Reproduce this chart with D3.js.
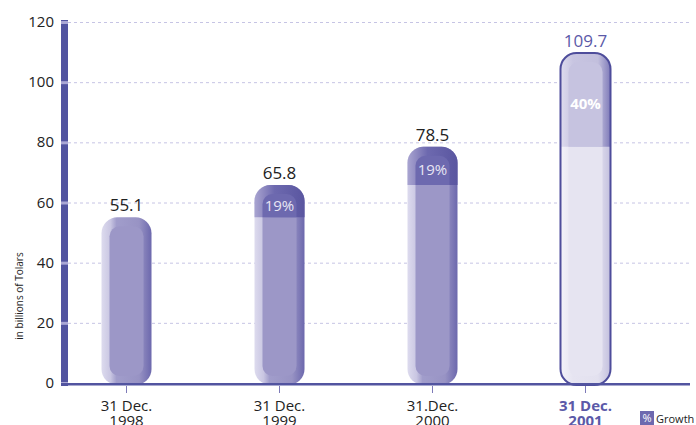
<!DOCTYPE html>
<html>
<head>
<meta charset="utf-8">
<script src="https://cdn.jsdelivr.net/npm/d3@7"></script>
<style>
  body { margin: 0; background: #fff; }
  svg { display: block; font-family: "Open Sans", "Noto Sans", sans-serif; }
</style>
</head>
<body>
<div id="chart"></div>
<script>
// data
const categories = ['31 Dec. 1998', '31 Dec. 1999', '31.Dec. 2000', '31 Dec. 2001'];
const labelLines = [['31 Dec.', '1998'], ['31 Dec.', '1999'], ['31.Dec.', '2000'], ['31 Dec.', '2001']];
const values = [55.1, 65.8, 78.5, 109.7];
const growth = [null, '19%', '19%', '40%'];
const yTicks = [0, 20, 40, 60, 80, 100, 120];

const width = 696, height = 425;
const svg = d3.select('#chart').append('svg')
  .attr('width', width).attr('height', height);

const y = d3.scaleLinear().domain([0, 120]).range([383, 22]);
const x = d3.scaleBand().domain(d3.range(categories.length)).range([50, 662]);
const barW = 50;

const defs = svg.append('defs');
function grad(id, stops) {
  const g = defs.append('linearGradient').attr('id', id)
    .attr('x1', '0%').attr('x2', '100%').attr('y1', '0%').attr('y2', '0%');
  stops.forEach(s => g.append('stop').attr('offset', s[0]).attr('stop-color', s[1]));
}
grad('outerA', [[0, '#dddbee'], [0.18, '#c9c6e2'], [0.3, '#a19dcb'], [0.75, '#9893c4'], [1, '#6c68ad']]);
grad('bandA', [[0, '#a9a5d1'], [0.18, '#8f8ac1'], [0.4, '#6d69af'], [1, '#5a56a0']]);
grad('outerB', [[0, '#f3f2f9'], [0.25, '#e6e4f1'], [0.75, '#e3e1ef'], [1, '#c3c0de']]);
grad('bandB', [[0, '#dedcee'], [0.25, '#c8c5e1'], [0.75, '#c2bfdd'], [1, '#7f7bb9']]);

// gridlines
svg.append('g').selectAll('line')
  .data(yTicks.filter(d => d > 0))
  .join('line')
  .attr('x1', 68).attr('x2', 690)
  .attr('y1', d => y(d) + 0.5).attr('y2', d => y(d) + 0.5)
  .attr('stroke', '#c6c4e4').attr('stroke-width', 1)
  .attr('stroke-dasharray', '3,3');

// bars
const bars = svg.append('g').selectAll('g')
  .data(values)
  .join('g');

bars.each(function (v, i) {
  const g = d3.select(this);
  const last = i === values.length - 1;
  const cx = x(i) + x.bandwidth() / 2;
  const x0 = cx - barW / 2;
  const top = y(v), bot = y(0) + 2;
  const h = bot - top;

  g.append('rect')
    .attr('x', x0).attr('y', top).attr('width', barW).attr('height', h)
    .attr('rx', 16)
    .attr('fill', last ? 'url(#outerB)' : 'url(#outerA)');
  g.append('rect')
    .attr('x', x0 + 8).attr('y', top + 9).attr('width', barW - 16).attr('height', h - 18)
    .attr('rx', 10)
    .attr('fill', last ? '#e6e4f1' : '#9c97c7');

  if (growth[i]) {
    const prevY = y(values[i - 1]);
    const clipId = 'clip' + i;
    defs.append('clipPath').attr('id', clipId)
      .append('rect').attr('x', x0 - 2).attr('y', top - 2)
      .attr('width', barW + 4).attr('height', prevY - top + 2);
    const band = g.append('g').attr('clip-path', `url(#${clipId})`);
    band.append('rect')
      .attr('x', x0).attr('y', top).attr('width', barW).attr('height', h)
      .attr('rx', 16)
      .attr('fill', last ? 'url(#bandB)' : 'url(#bandA)');
    band.append('rect')
      .attr('x', x0 + 8).attr('y', top + 9).attr('width', barW - 16).attr('height', h - 18)
      .attr('rx', 10)
      .attr('fill', last ? '#c6c3e0' : '#6d69af');
    g.append('text')
      .attr('x', cx).attr('y', (top + 9 + prevY) / 2 + 5)
      .attr('text-anchor', 'middle')
      .attr('font-size', 15)
      .attr('font-weight', last ? 'bold' : 'normal')
      .attr('fill', last ? '#ffffff' : '#e8e6f4')
      .text(growth[i]);
  }

  if (last) {
    g.append('rect')
      .attr('x', x0).attr('y', top).attr('width', barW).attr('height', h)
      .attr('rx', 16)
      .attr('fill', 'none').attr('stroke', '#4e4d9b').attr('stroke-width', 2);
  }

  g.append('text')
    .attr('x', cx).attr('y', top - 6)
    .attr('text-anchor', 'middle')
    .attr('font-size', 17)
    .attr('fill', last ? '#5b59a8' : '#222')
    .text(d3.format('.1f')(v));
});

// y axis bar
svg.append('rect')
  .attr('x', 61).attr('y', y(120) - 2).attr('width', 7).attr('height', y(0) - y(120) + 5)
  .attr('fill', '#5254a0');
svg.append('g').selectAll('rect')
  .data(yTicks)
  .join('rect')
  .attr('x', 61).attr('y', d => y(d) - 1).attr('width', 7).attr('height', 3)
  .attr('fill', '#aaa7d5');

svg.append('g').selectAll('text')
  .data(yTicks)
  .join('text')
  .attr('x', 54).attr('y', d => y(d) + 5)
  .attr('text-anchor', 'end')
  .attr('font-size', 15)
  .attr('fill', '#222')
  .text(d => d);

svg.append('text')
  .attr('transform', 'translate(23,296) rotate(-90)')
  .attr('text-anchor', 'middle')
  .attr('font-size', 10)
  .attr('fill', '#222')
  .text('in billions of Tolars');

// x axis
svg.append('rect')
  .attr('x', 61).attr('y', y(0)).attr('width', 629).attr('height', 2.5)
  .attr('fill', '#5254a0');

const xAxis = svg.append('g').selectAll('g')
  .data(categories)
  .join('g')
  .attr('transform', (d, i) => `translate(${x(i) + x.bandwidth() / 2},0)`);
xAxis.append('line')
  .attr('y1', y(0) + 3).attr('y2', y(0) + 10)
  .attr('stroke', '#7d7ab8');
xAxis.append('text')
  .attr('text-anchor', 'middle')
  .attr('font-size', 15)
  .attr('font-weight', (d, i) => i === categories.length - 1 ? 'bold' : 'normal')
  .attr('fill', (d, i) => i === categories.length - 1 ? '#5b59a8' : '#222')
  .selectAll('tspan')
  .data((d, i) => labelLines[i])
  .join('tspan')
  .attr('x', 0)
  .attr('y', (d, j) => 411 + j * 15)
  .text(d => d);

// legend
const legend = svg.append('g').attr('transform', 'translate(640,411)');
legend.append('rect').attr('width', 14).attr('height', 14).attr('fill', '#6d69af');
legend.append('text').attr('x', 7).attr('y', 11).attr('text-anchor', 'middle')
  .attr('font-size', 11).attr('fill', '#fff').text('%');
legend.append('text').attr('x', 16).attr('y', 11.5)
  .attr('font-size', 11).attr('fill', '#222').text('Growth');
</script>
</body>
</html>
